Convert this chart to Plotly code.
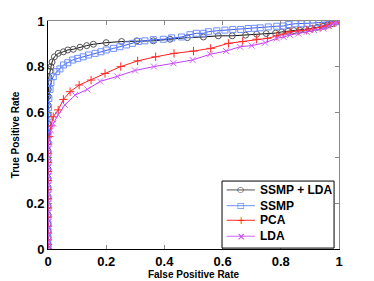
import plotly.graph_objects as go

# SSMP + LDA
ssmp_lda_fpr = [0, 0, 0, 0, 0, 0, 0, 0, 0, 0, 0, 0, 0, 0, 0, 0, 0, 0, 0,
                0.001, 0.002, 0.003, 0.007, 0.010, 0.014, 0.022, 0.035, 0.053, 0.068, 0.087,
                0.11, 0.133, 0.156, 0.20, 0.253, 0.305, 0.362, 0.419, 0.479, 0.534,
                0.585, 0.633, 0.679, 0.717, 0.75, 0.782, 0.803, 0.825, 0.845, 0.865,
                0.885, 0.905, 0.925, 0.945, 0.96, 0.975, 0.99, 1.0]
ssmp_lda_tpr = [0, 0.02, 0.05, 0.08, 0.11, 0.15, 0.19, 0.23, 0.27, 0.31, 0.35, 0.39, 0.43, 0.47, 0.51, 0.55, 0.59, 0.63, 0.67,
                0.70, 0.73, 0.754, 0.78, 0.80, 0.82, 0.843, 0.858, 0.865, 0.873, 0.876,
                0.885, 0.892, 0.898, 0.905, 0.91, 0.913, 0.913, 0.92, 0.927, 0.93,
                0.935, 0.935, 0.938, 0.942, 0.945, 0.947, 0.952, 0.955, 0.958, 0.960,
                0.963, 0.967, 0.972, 0.977, 0.982, 0.988, 0.995, 1.0]

# SSMP
ssmp_fpr = [0, 0, 0, 0, 0, 0, 0, 0, 0, 0, 0, 0, 0, 0, 0, 0,
            0.001, 0.002, 0.003, 0.007, 0.010, 0.018, 0.03, 0.041, 0.053, 0.068, 0.085, 0.102,
            0.121, 0.139, 0.162, 0.182, 0.20, 0.225, 0.247, 0.27, 0.29, 0.31, 0.333, 0.362,
            0.396, 0.425, 0.459, 0.488, 0.51, 0.535, 0.551, 0.58, 0.608, 0.635, 0.662, 0.688,
            0.71, 0.729, 0.757, 0.786, 0.809, 0.826, 0.849, 0.872, 0.89, 0.91, 0.93, 0.95,
            0.97, 0.985, 1.0]
ssmp_tpr = [0, 0.02, 0.05, 0.08, 0.11, 0.14, 0.18, 0.22, 0.26, 0.30, 0.34, 0.38, 0.42, 0.46, 0.50, 0.54,
            0.58, 0.62, 0.66, 0.70, 0.73, 0.756, 0.778, 0.79, 0.807, 0.817, 0.829, 0.836,
            0.843, 0.851, 0.858, 0.865, 0.873, 0.88, 0.887, 0.895, 0.902, 0.91, 0.913, 0.918,
            0.92, 0.926, 0.93, 0.94, 0.946, 0.946, 0.953, 0.957, 0.96, 0.963, 0.963, 0.967,
            0.968, 0.97, 0.974, 0.977, 0.978, 0.984, 0.988, 0.988, 0.99, 0.991, 0.993, 0.995,
            0.997, 0.998, 1.0]

# PCA
pca_fpr = [0, 0, 0, 0, 0, 0, 0, 0, 0, 0, 0, 0, 0, 0,
           0.004, 0.010, 0.018, 0.035, 0.053, 0.076, 0.107, 0.148, 0.196, 0.25, 0.308,
           0.37, 0.433, 0.5, 0.559, 0.62, 0.669, 0.717, 0.754, 0.786, 0.81, 0.832,
           0.86, 0.889, 0.91, 0.935, 0.955, 0.97, 0.985, 1.0]
pca_tpr = [0, 0.02, 0.04, 0.07, 0.10, 0.14, 0.18, 0.22, 0.26, 0.30, 0.34, 0.38, 0.42, 0.46,
           0.493, 0.54, 0.58, 0.61, 0.656, 0.69, 0.719, 0.741, 0.77, 0.80, 0.825,
           0.843, 0.858, 0.868, 0.88, 0.902, 0.91, 0.92, 0.924, 0.934, 0.943, 0.953,
           0.956, 0.96, 0.966, 0.972, 0.978, 0.985, 0.992, 1.0]

# LDA
lda_fpr = [0, 0, 0, 0, 0, 0, 0, 0, 0, 0, 0, 0, 0,
           0.004, 0.010, 0.018, 0.035, 0.058, 0.093, 0.135, 0.179, 0.238, 0.299, 0.364,
           0.431, 0.497, 0.557, 0.612, 0.66, 0.70, 0.746, 0.786, 0.81, 0.832, 0.86,
           0.889, 0.915, 0.946, 0.965, 0.98, 0.99, 1.0]
lda_tpr = [0, 0.03, 0.06, 0.09, 0.12, 0.16, 0.20, 0.24, 0.28, 0.32, 0.36, 0.40, 0.44,
           0.48, 0.52, 0.55, 0.588, 0.632, 0.675, 0.70, 0.735, 0.757, 0.783, 0.80,
           0.815, 0.829, 0.854, 0.868, 0.887, 0.892, 0.905, 0.924, 0.93, 0.939, 0.945,
           0.953, 0.96, 0.967, 0.978, 0.988, 0.995, 1.0]

series_names = ["SSMP + LDA", "SSMP", "PCA", "LDA"]

tick_vals = [0, 0.2, 0.4, 0.6, 0.8, 1]
tick_text = ["0", "0.2", "0.4", "0.6", "0.8", "1"]

# styles: (line colour, marker colour, plotly symbol, legend glyph, glyph size)
styles = [
    ("#111111", "#555555", "circle-open", "\u25CB", 8),
    ("#3a5cf0", "#7090ff", "square-open", "\u25A1", 8),
    ("#ff2020", "#ff2a2a", "cross-thin-open", "+", 10),
    ("#c040f5", "#d060ff", "x-thin-open", "\u00D7", 10),
]
series_data = [
    (ssmp_lda_fpr, ssmp_lda_tpr),
    (ssmp_fpr, ssmp_tpr),
    (pca_fpr, pca_tpr),
    (lda_fpr, lda_tpr),
]

fig = go.Figure()
for name, (xs, ys), (lc, mc, sym, _, _) in zip(series_names, series_data, styles):
    fig.add_trace(go.Scatter(
        x=xs, y=ys, name=name, mode="lines+markers",
        line=dict(color=lc, width=1),
        marker=dict(symbol=sym, size=6, color=mc, line=dict(color=mc, width=1)),
        showlegend=False,
    ))

font_family = "Liberation Sans, Arial, sans-serif"

# custom legend (paper coordinates, layout only)
leg_box = dict(x0=0.598, x1=0.983, y0=0.004, y1=0.298)
leg_rows = [0.259, 0.190, 0.126, 0.056]
leg_line_x = (0.614, 0.711)
leg_mark_x = 0.663
leg_text_x = 0.721

shapes = [dict(type="rect", xref="paper", yref="paper", layer="above",
               fillcolor="white", line=dict(color="black", width=1), **leg_box)]
annotations = []
for name, ry, (lc, mc, sym, glyph, gsize) in zip(series_names, leg_rows, styles):
    shapes.append(dict(type="line", xref="paper", yref="paper", layer="above",
                       x0=leg_line_x[0], x1=leg_line_x[1], y0=ry, y1=ry,
                       line=dict(color=mc, width=1)))
    annotations.append(dict(x=leg_mark_x, y=ry, xref="paper", yref="paper",
                            text=glyph, showarrow=False, xanchor="center", yanchor="middle",
                            font=dict(family="DejaVu Sans", size=gsize, color=lc, weight="normal")))
    annotations.append(dict(x=leg_text_x, y=ry, xref="paper", yref="paper",
                            text=name, showarrow=False, xanchor="left", yanchor="middle",
                            font=dict(family=font_family, size=12, color="black", weight="bold")))

fig.update_layout(
    width=374, height=281,
    margin=dict(l=40, r=43, t=13, b=40, autoexpand=False),
    paper_bgcolor="white", plot_bgcolor="white",
    font=dict(family=font_family, size=13, color="black", weight="bold"),
    showlegend=False,
    shapes=shapes,
    annotations=annotations,
    xaxis=dict(
        range=[0, 1], tickvals=tick_vals, ticktext=tick_text, automargin=False,
        showgrid=False, zeroline=False, showline=True, linecolor="black", linewidth=1,
        ticks="inside", ticklen=4, tickcolor="#888888",
        title=dict(text="False Positive Rate", font=dict(size=10, weight="bold"), standoff=2),
        tickfont=dict(size=13),
    ),
    yaxis=dict(
        range=[0, 1], tickvals=tick_vals, ticktext=tick_text, automargin=False,
        showgrid=False, zeroline=False, showline=True, linecolor="black", linewidth=1,
        ticks="inside", ticklen=4, tickcolor="#888888",
        title=dict(text="True Positive Rate", font=dict(size=10, weight="bold"), standoff=4),
        tickfont=dict(size=13),
    ),
    xaxis2=dict(
        overlaying="x", side="top", range=[0, 1], tickvals=tick_vals, automargin=False,
        showticklabels=False, showgrid=False, zeroline=False, showline=True,
        linecolor="#888888", linewidth=1, ticks="inside", ticklen=4, tickcolor="#888888",
        anchor="y",
    ),
    yaxis2=dict(
        overlaying="y", side="right", range=[0, 1], tickvals=tick_vals, automargin=False,
        showticklabels=False, showgrid=False, zeroline=False, showline=True,
        linecolor="#888888", linewidth=1, ticks="inside", ticklen=4, tickcolor="#888888",
        anchor="x",
    ),
)
# invisible helper trace so the mirror axes are drawn
fig.add_trace(go.Scatter(x=[0], y=[0], xaxis="x2", yaxis="y2", mode="markers",
                         marker=dict(opacity=0), showlegend=False, hoverinfo="skip"))

fig.write_html("out.html")
